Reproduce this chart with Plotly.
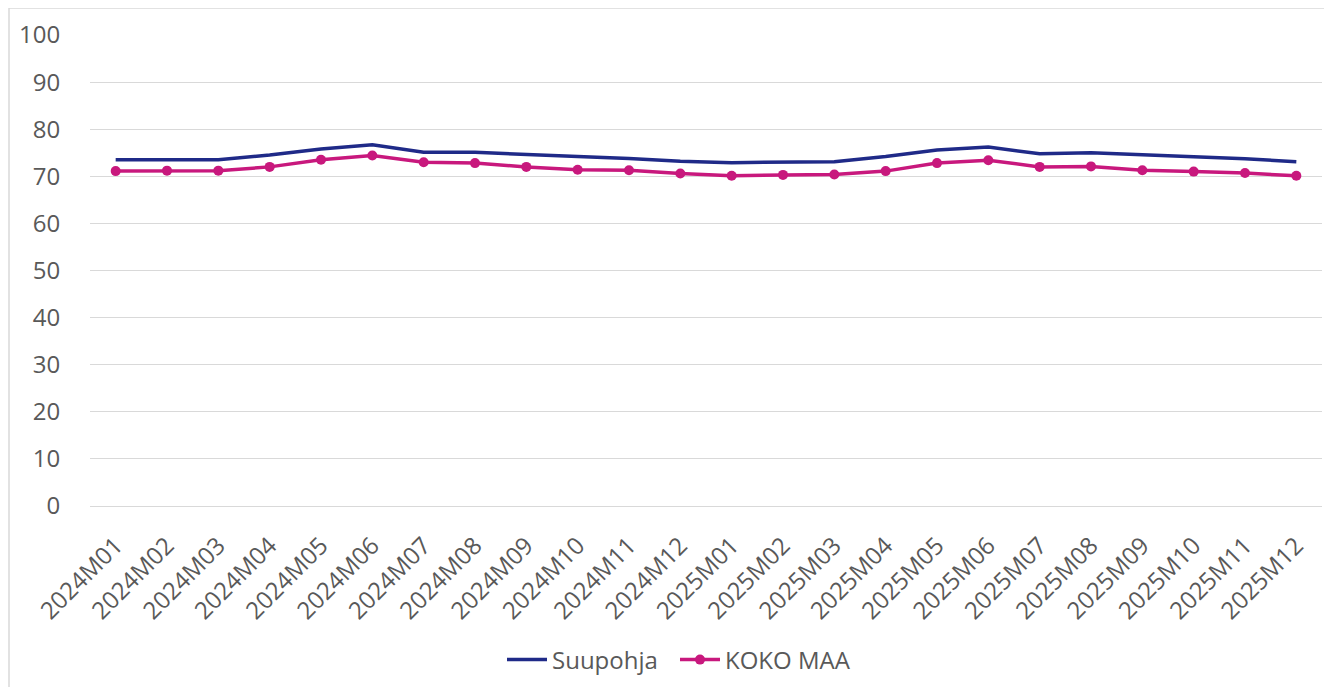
import plotly.graph_objects as go

months = ["2024M01", "2024M02", "2024M03", "2024M04", "2024M05", "2024M06",
          "2024M07", "2024M08", "2024M09", "2024M10", "2024M11", "2024M12",
          "2025M01", "2025M02", "2025M03", "2025M04", "2025M05", "2025M06",
          "2025M07", "2025M08", "2025M09", "2025M10", "2025M11", "2025M12"]

suupohja = [73.5, 73.5, 73.5, 74.5, 75.8, 76.7, 75.1, 75.1, 74.6, 74.2, 73.8, 73.2,
            72.9, 73.0, 73.1, 74.2, 75.6, 76.2, 74.8, 75.0, 74.6, 74.2, 73.7, 73.1]

koko_maa = [71.1, 71.2, 71.2, 72.0, 73.5, 74.4, 73.0, 72.8, 72.0, 71.4, 71.3, 70.6,
            70.1, 70.3, 70.4, 71.1, 72.8, 73.4, 72.0, 72.1, 71.3, 71.0, 70.7, 70.1]

y_ticks = [0, 10, 20, 30, 40, 50, 60, 70, 80, 90, 100]

FONT = "Open Sans, Liberation Sans, sans-serif"
GREY = "#595959"

# page body has an 8px margin, so the figure is drawn 8px in from the corner
W, H = 1324, 679
L, T, R, B = 82, 27, 10, 181
PH = H - T - B
PW = W - L - R

fig = go.Figure()
fig.add_trace(go.Scatter(
    x=months, y=suupohja, name="Suupohja", mode="lines",
    line=dict(color="#1f2a88", width=3.5), legend="legend",
))
fig.add_trace(go.Scatter(
    x=months, y=koko_maa, name="KOKO MAA", mode="lines+markers",
    line=dict(color="#c8187d", width=3.5),
    marker=dict(color="#c8187d", size=10), legend="legend2",
))

leg_y = -(652 - (T + PH)) / PH
leg_common = dict(orientation="h", xanchor="left", y=leg_y, yanchor="middle",
                  font=dict(size=24, color=GREY), itemwidth=40,
                  bgcolor="rgba(0,0,0,0)")

fig.update_layout(
    width=W, height=H,
    margin=dict(l=L, r=R, t=T, b=B, autoexpand=False),
    paper_bgcolor="white", plot_bgcolor="white",
    font=dict(family=FONT, color=GREY, size=24),
    showlegend=True,
    legend=dict(x=(502 - 8 - L) / PW, **leg_common),
    legend2=dict(x=(675 - 8 - L) / PW, **leg_common),
    xaxis=dict(
        type="category", range=[-0.5, 23.5], tickangle=-45,
        showgrid=False, showline=False, zeroline=False,
        tickfont=dict(size=24, color=GREY), ticks="outside", ticklen=15,
        tickcolor="rgba(0,0,0,0)",
    ),
    yaxis=dict(
        range=[0, 100], tickvals=y_ticks, showgrid=True, gridcolor="#d9d9d9",
        gridwidth=1, zeroline=True, zerolinecolor="#d9d9d9", zerolinewidth=1,
        showline=False, ticks="outside", ticklen=24, tickcolor="rgba(0,0,0,0)",
        tickfont=dict(size=24, color=GREY),
    ),
    shapes=[
        dict(type="line", xref="paper", yref="paper",
             x0=(1 - L) / PW, x1=(1 - L) / PW,
             y0=(T + PH - 0) / PH, y1=(T + PH - 700) / PH,
             line=dict(color="#d9d9d9", width=1.5)),
        dict(type="line", xref="paper", yref="paper",
             x0=(1 - L) / PW, x1=(1340 - L) / PW,
             y0=(T + PH - 0) / PH, y1=(T + PH - 0) / PH,
             line=dict(color="#d9d9d9", width=1.5)),
    ],
)

fig.write_html("out.html")
